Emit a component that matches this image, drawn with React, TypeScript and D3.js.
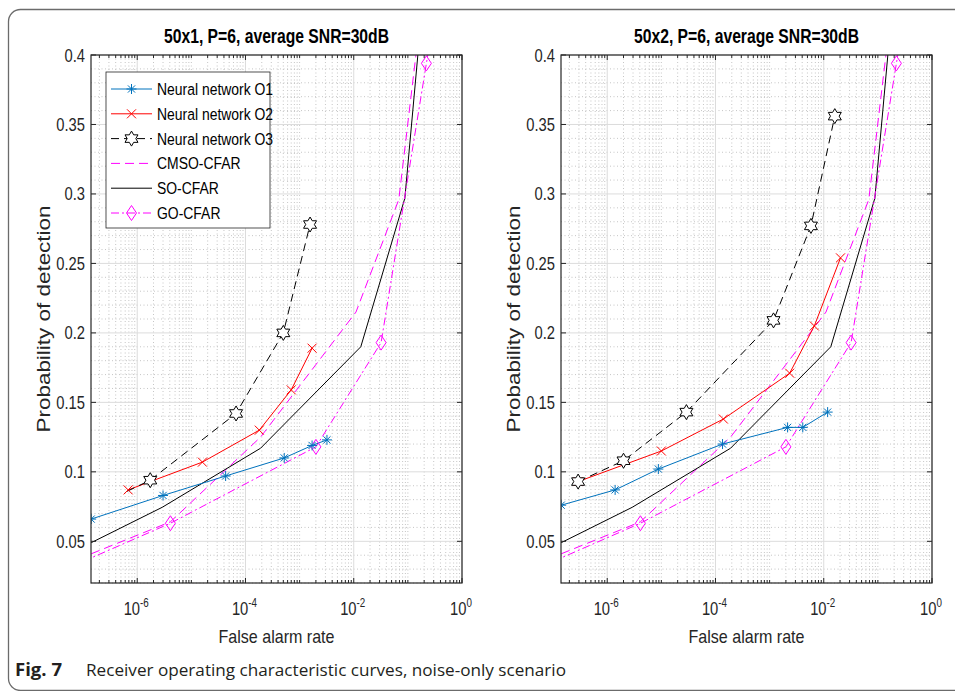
import React from 'react';
import * as d3 from 'd3';

const W = 955;
const H = 691;

const titles = ['50x1, P=6, average SNR=30dB', '50x2, P=6, average SNR=30dB'];
const xLabel = 'False alarm rate';
const yLabel = 'Probability of detection';
const captionBold = 'Fig. 7';
const captionText = 'Receiver operating characteristic curves, noise-only scenario';

const xTickValues = [1e-6, 1e-4, 1e-2, 1];
const xTickExps = ['-6', '-4', '-2', '0'];
const yTickValues = [0.05, 0.1, 0.15, 0.2, 0.25, 0.3, 0.35, 0.4];
const yTickLabels = ['0.05', '0.1', '0.15', '0.2', '0.25', '0.3', '0.35', '0.4'];
const xDomain = [1.4e-7, 1];
const yDomain = [0.02, 0.4];

const legendNames = ['Neural network O1', 'Neural network O2', 'Neural network O3', 'CMSO-CFAR', 'SO-CFAR', 'GO-CFAR'];

// Panel 1 (50x1)
const o1A_x = [1.41e-7, 3.0e-6, 4.3e-5, 5.2e-4, 1.7e-3, 3.2e-3];
const o1A_y = [0.066, 0.083, 0.097, 0.110, 0.119, 0.123];
const o2A_x = [6.8e-7, 1.6e-5, 1.8e-4, 7.0e-4, 1.7e-3];
const o2A_y = [0.087, 0.107, 0.130, 0.159, 0.189];
const o3A_x = [6.5e-7, 1.74e-6, 6.7e-5, 5.0e-4, 1.56e-3];
const o3A_y = [0.086, 0.094, 0.142, 0.200, 0.278];
const o3A_noMarker = [0];

// Panel 2 (50x2)
const o1B_x = [1.41e-7, 1.4e-6, 8.8e-6, 1.35e-4, 2.15e-3, 4.1e-3, 1.18e-2];
const o1B_y = [0.076, 0.087, 0.102, 0.120, 0.132, 0.132, 0.143];
const o2B_x = [2.9e-7, 1.0e-5, 1.4e-4, 2.35e-3, 6.7e-3, 2.04e-2];
const o2B_y = [0.093, 0.115, 0.138, 0.171, 0.205, 0.254];
const o3B_x = [2.9e-7, 2.0e-6, 2.9e-5, 1.18e-3, 5.8e-3, 1.6e-2];
const o3B_y = [0.093, 0.108, 0.143, 0.209, 0.277, 0.356];

// CFAR baselines (same in both panels)
const cmso_x = [1.41e-7, 4.1e-6, 1.9e-4, 1.1e-2, 6.8e-2, 1];
const cmso_y = [0.041, 0.064, 0.125, 0.215, 0.296, 0.68];
const so_x = [1.41e-7, 2.9e-6, 1.9e-4, 1.35e-2, 8.8e-2, 1];
const so_y = [0.049, 0.0745, 0.117, 0.19, 0.297, 0.75];
const go_x = [1e-7, 4.1e-6, 2.0e-3, 3.2e-2, 2.2e-1, 1];
const go_y = [0.0355, 0.063, 0.118, 0.193, 0.394, 0.55];

type Style = { color: string; dash: string; marker: string | null };
const styles: Style[] = [
  { color: '#0072BD', dash: '', marker: 'asterisk' },
  { color: '#FF0000', dash: '', marker: 'x' },
  { color: '#000000', dash: '8,5', marker: 'hexagram' },
  { color: '#FF00FF', dash: '9,5', marker: null },
  { color: '#000000', dash: '', marker: null },
  { color: '#FF00FF', dash: '8,3,2,3', marker: 'diamond' },
];

const FONT = '"Liberation Sans", Arial, Helvetica, sans-serif';
const SX = 0.82;

function SText({
  x,
  y,
  size,
  anchor = 'start',
  weight = 'normal',
  rotate = false,
  sx = SX,
  fill = '#262626',
  children,
}: {
  x: number;
  y: number;
  size: number;
  anchor?: string;
  weight?: string;
  rotate?: boolean;
  sx?: number;
  fill?: string;
  children: React.ReactNode;
}) {
  return (
    <text
      transform={`translate(${x},${y})${rotate ? ' rotate(-90)' : ''} scale(${sx},1)`}
      textAnchor={anchor}
      fontFamily={FONT}
      fontSize={size}
      fontWeight={weight}
      fill={fill}
    >
      {children}
    </text>
  );
}

function Marker({ type, x, y, color }: { type: string; x: number; y: number; color: string }) {
  if (type === 'asterisk') {
    const r = 5;
    const d = r * 0.72;
    return (
      <g stroke={color} strokeWidth={1}>
        <line x1={x - r} y1={y} x2={x + r} y2={y} />
        <line x1={x} y1={y - r} x2={x} y2={y + r} />
        <line x1={x - d} y1={y - d} x2={x + d} y2={y + d} />
        <line x1={x - d} y1={y + d} x2={x + d} y2={y - d} />
      </g>
    );
  }
  if (type === 'x') {
    const r = 4.5;
    return (
      <g stroke={color} strokeWidth={1}>
        <line x1={x - r} y1={y - r} x2={x + r} y2={y + r} />
        <line x1={x - r} y1={y + r} x2={x + r} y2={y - r} />
      </g>
    );
  }
  if (type === 'hexagram') {
    const R = 7.5;
    const r = R / Math.sqrt(3);
    const pts: string[] = [];
    for (let i = 0; i < 12; i++) {
      const a = -Math.PI / 2 + (i * Math.PI) / 6;
      const rr = i % 2 === 0 ? R : r;
      pts.push(`${x + rr * Math.cos(a)},${y + rr * Math.sin(a)}`);
    }
    return <polygon points={pts.join(' ')} fill="#fff" stroke={color} strokeWidth={1} />;
  }
  if (type === 'diamond') {
    const w = 5;
    const h = 7.5;
    return (
      <polygon
        points={`${x},${y - h} ${x + w},${y} ${x},${y + h} ${x - w},${y}`}
        fill="none"
        stroke={color}
        strokeWidth={1}
      />
    );
  }
  return null;
}

type Series = { xs: number[]; ys: number[]; style: Style; noMarker?: number[] };

function Panel({ left, idx, series, showLegend }: { left: number; idx: number; series: Series[]; showLegend: boolean }) {
  const top = 55;
  const bottom = 583;
  const right = left + 371;
  const x = d3.scaleLog().domain(xDomain).range([left, right]);
  const y = d3.scaleLinear().domain(yDomain).range([bottom, top]);
  const clipId = `clip${idx}`;

  const minorX: number[] = [];
  for (let k = -7; k <= -1; k++) {
    for (let m = 1; m <= 9; m++) {
      const v = m * Math.pow(10, k);
      if (v < xDomain[0] || v > xDomain[1]) continue;
      if (xTickValues.some((t) => Math.abs(t - v) / t < 1e-9)) continue;
      minorX.push(v);
    }
  }
  const minorY: number[] = [];
  for (let i = 2; i <= 40; i++) {
    const vv = i / 100;
    if (yTickValues.some((t) => Math.abs(t - vv) < 1e-9)) continue;
    minorY.push(vv);
  }

  const line = d3
    .line<[number, number]>()
    .x((d) => x(d[0]))
    .y((d) => y(d[1]));

  const cx = (left + right) / 2;

  return (
    <g>
      <defs>
        <clipPath id={clipId}>
          <rect x={left} y={top} width={right - left} height={bottom - top} />
        </clipPath>
      </defs>
      <rect x={left} y={top} width={right - left} height={bottom - top} fill="#fff" />
      <g stroke="#b8b8b8" strokeWidth={0.8} strokeDasharray="1,2.5">
        {minorX.map((v, i) => (
          <line key={`mx${i}`} x1={x(v)} x2={x(v)} y1={top} y2={bottom} />
        ))}
        {minorY.map((v, i) => (
          <line key={`my${i}`} x1={left} x2={right} y1={y(v)} y2={y(v)} />
        ))}
      </g>
      <g stroke="#dcdcdc" strokeWidth={1}>
        {xTickValues.map((v, i) => (
          <line key={`gx${i}`} x1={x(v)} x2={x(v)} y1={top} y2={bottom} />
        ))}
        {yTickValues.map((v, i) => (
          <line key={`gy${i}`} x1={left} x2={right} y1={y(v)} y2={y(v)} />
        ))}
      </g>
      <g clipPath={`url(#${clipId})`}>
        {series.map((s, si) => (
          <path
            key={`l${si}`}
            d={line(s.xs.map((xv, i) => [xv, s.ys[i]] as [number, number])) || ''}
            fill="none"
            stroke={s.style.color}
            strokeWidth={1}
            strokeDasharray={s.style.dash || undefined}
          />
        ))}
        {series.map((s, si) =>
          s.style.marker
            ? s.xs.map((xv, i) =>
                s.noMarker && s.noMarker.includes(i) ? null : (
                  <Marker key={`m${si}-${i}`} type={s.style.marker as string} x={x(xv)} y={y(s.ys[i])} color={s.style.color} />
                )
              )
            : null
        )}
      </g>
      <rect x={left} y={top} width={right - left} height={bottom - top} fill="none" stroke="#262626" strokeWidth={1.2} />
      <g stroke="#262626" strokeWidth={1}>
        {xTickValues.map((v, i) => (
          <g key={`tx${i}`}>
            <line x1={x(v)} x2={x(v)} y1={bottom} y2={bottom - 5} />
            <line x1={x(v)} x2={x(v)} y1={top} y2={top + 5} />
          </g>
        ))}
        {minorX.map((v, i) => (
          <g key={`tmx${i}`}>
            <line x1={x(v)} x2={x(v)} y1={bottom} y2={bottom - 3} />
            <line x1={x(v)} x2={x(v)} y1={top} y2={top + 3} />
          </g>
        ))}
        {yTickValues.map((v, i) => (
          <g key={`ty${i}`}>
            <line x1={left} x2={left + 5} y1={y(v)} y2={y(v)} />
            <line x1={right} x2={right - 5} y1={y(v)} y2={y(v)} />
          </g>
        ))}
      </g>
      {yTickValues.map((v, i) => (
        <SText key={`yl${i}`} x={left - 6} y={y(v) + 6.5} size={18} anchor="end">
          {yTickLabels[i]}
        </SText>
      ))}
      {xTickValues.map((v, i) => (
        <SText key={`xl${i}`} x={x(v) - 1} y={615} size={18} anchor="middle">
          10
          <tspan dy={-8} fontSize={12}>
            {xTickExps[i]}
          </tspan>
        </SText>
      ))}
      <text
        x={cx}
        y={43}
        textAnchor="middle"
        fontFamily={FONT}
        fontWeight="bold"
        fontSize={21}
        fill="#000"
        textLength={225}
        lengthAdjust="spacingAndGlyphs"
      >
        {titles[idx]}
      </text>
      <text
        x={cx}
        y={643}
        textAnchor="middle"
        fontFamily={FONT}
        fontSize={19}
        fill="#262626"
        textLength={116}
        lengthAdjust="spacingAndGlyphs"
      >
        {xLabel}
      </text>
      <text
        transform={`translate(${left - 41},${(top + bottom) / 2}) rotate(-90)`}
        textAnchor="middle"
        fontFamily={FONT}
        fontSize={19}
        fill="#262626"
        textLength={227}
        lengthAdjust="spacingAndGlyphs"
      >
        {yLabel}
      </text>
      {showLegend && (
        <g>
          <rect x={106} y={72} width={164} height={156} fill="#fff" stroke="#262626" strokeWidth={0.8} />
          {legendNames.map((name, i) => {
            const st = styles[i];
            const ly = 89 + i * 24.8;
            return (
              <g key={`lg${i}`}>
                <line x1={111} x2={152} y1={ly} y2={ly} stroke={st.color} strokeWidth={1} strokeDasharray={st.dash || undefined} />
                {st.marker && <Marker type={st.marker} x={131.5} y={ly} color={st.color} />}
                <SText x={157} y={ly + 6} size={17} fill="#000">
                  {name}
                </SText>
              </g>
            );
          })}
        </g>
      )}
    </g>
  );
}

export default function App() {
  const seriesA: Series[] = [
    { xs: cmso_x, ys: cmso_y, style: styles[3] },
    { xs: so_x, ys: so_y, style: styles[4] },
    { xs: go_x, ys: go_y, style: styles[5] },
    { xs: o1A_x, ys: o1A_y, style: styles[0] },
    { xs: o2A_x, ys: o2A_y, style: styles[1] },
    { xs: o3A_x, ys: o3A_y, style: styles[2], noMarker: o3A_noMarker },
  ];
  const seriesB: Series[] = [
    { xs: cmso_x, ys: cmso_y, style: styles[3] },
    { xs: so_x, ys: so_y, style: styles[4] },
    { xs: go_x, ys: go_y, style: styles[5] },
    { xs: o1B_x, ys: o1B_y, style: styles[0] },
    { xs: o2B_x, ys: o2B_y, style: styles[1] },
    { xs: o3B_x, ys: o3B_y, style: styles[2] },
  ];
  const capFont = '"Open Sans", "Noto Sans", sans-serif';
  return (
    <svg width={W} height={H} style={{ position: 'absolute', left: 0, top: 0 }} viewBox={`0 0 ${W} ${H}`}>
      <rect x={0} y={0} width={W} height={H} fill="#fff" />
      <rect x={8.5} y={9.5} width={1000} height={681} rx={12} ry={12} fill="none" stroke="#6b6b6b" strokeWidth={1.3} />
      <Panel left={91} idx={0} series={seriesA} showLegend={true} />
      <Panel left={561} idx={1} series={seriesB} showLegend={false} />
      <text x={15} y={676} fontFamily={capFont} fontSize={17} fontWeight="bold" fill="#231f20" textLength={47} lengthAdjust="spacingAndGlyphs">
        {captionBold}
      </text>
      <text x={86} y={676} fontFamily={capFont} fontSize={17} fill="#231f20" textLength={480} lengthAdjust="spacingAndGlyphs">
        {captionText}
      </text>
    </svg>
  );
}
